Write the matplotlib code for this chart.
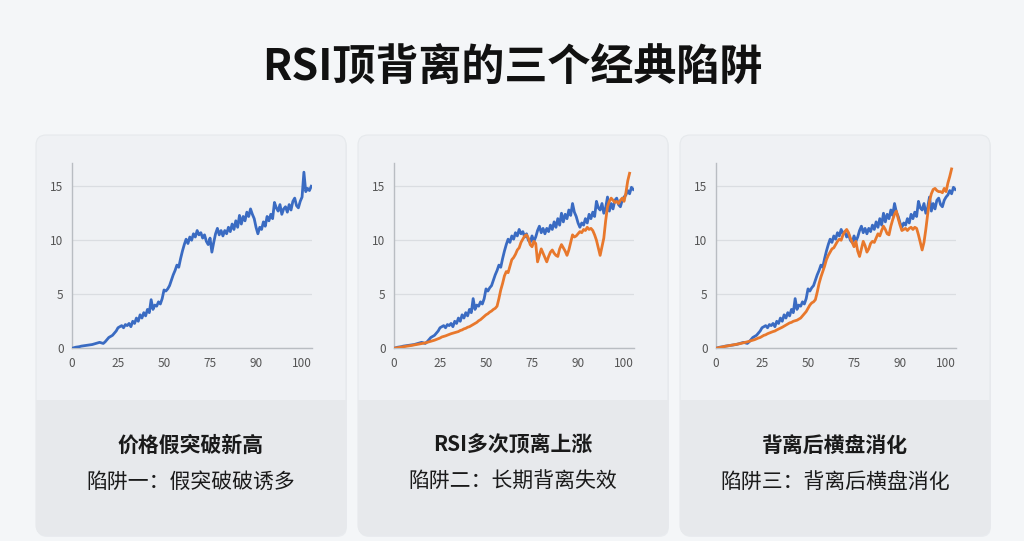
import matplotlib.pyplot as plt
from matplotlib.patches import FancyBboxPatch
import numpy as np

plt.rcParams['font.family'] = ['Noto Sans CJK SC', 'DejaVu Sans']

# price line (blue) in panel 1
price_1 = [0.0, 0.05, 0.1, 0.12, 0.15, 0.2, 0.22, 0.25, 0.28, 0.3, 0.32, 0.35, 0.4, 0.45, 0.5, 0.55,
           0.5, 0.45, 0.6,
           0.8, 1.0, 1.1, 1.2, 1.4, 1.6, 1.9,
           2.0, 2.1, 1.9, 2.2, 2.1, 2.3, 2.0, 2.5, 2.3, 2.8,
           2.5, 3.1, 2.8, 3.3, 3.0, 3.6, 3.3, 4.5, 3.6, 4.0,
           3.9, 4.3, 4.1, 4.6, 5.4, 5.3, 5.5,
           5.8, 6.3, 6.8, 7.2, 7.7, 7.5, 8.3, 9.0, 9.6, 10.1,
           9.7, 10.3, 10.0, 10.6, 10.3, 10.9, 10.5, 10.7, 10.2, 10.5,
           9.9, 9.6, 10.2, 8.9, 9.8, 10.6, 11.1, 10.5, 10.9, 10.4,
           10.9, 10.6, 11.2, 10.8, 11.5, 11.0, 11.8, 11.2, 12.3, 11.5,
           12.2, 11.8, 12.6, 12.2, 12.9, 12.4, 12.0, 11.2, 10.6, 11.2,
           11.0, 11.7, 11.3, 12.2, 11.8, 12.4, 12.0, 13.5, 13.0, 12.7,
           13.3, 12.4, 12.9, 13.1, 12.6, 13.3, 12.8, 13.6, 13.9, 13.2,
           13.0, 13.6, 14.0, 16.3, 14.5, 14.8, 14.6, 15.0]

# price line (blue) in panels 2 and 3
price_23 = [0.0, 0.05, 0.1, 0.12, 0.15, 0.2, 0.22, 0.25, 0.28, 0.3, 0.32, 0.35, 0.4, 0.45, 0.5, 0.55,
            0.5, 0.45, 0.6,
            0.8, 1.0, 1.1, 1.2, 1.4, 1.6, 1.9,
            2.0, 2.1, 1.9, 2.2, 2.1, 2.3, 2.0, 2.5, 2.3, 2.8,
            2.5, 3.1, 2.8, 3.3, 3.0, 3.6, 3.3, 4.6, 3.6, 4.0,
            3.9, 4.3, 4.1, 4.6, 5.5, 5.3, 5.6,
            5.8, 6.3, 6.8, 7.2, 7.7, 7.5, 8.3, 9.0, 9.6, 10.1,
            9.8, 10.4, 10.1, 10.7, 10.4, 11.0, 10.6, 10.8, 10.3, 10.6,
            10.0, 9.8, 10.4, 9.9, 10.3, 10.9, 11.3, 10.7, 11.1, 10.6,
            11.1, 10.8, 11.4, 11.0, 11.7, 11.2, 12.0, 11.4, 12.5, 11.7,
            12.4, 12.0, 12.8, 12.3, 13.4, 12.6, 12.2, 11.6, 11.2, 11.6,
            11.4, 12.0, 11.6, 12.4, 12.0, 12.6, 12.2, 13.6, 13.0, 12.8,
            13.4, 12.5, 13.0, 14.0, 12.7, 13.4, 12.9, 13.7, 13.9, 13.3,
            13.1, 13.7, 14.0, 14.2, 14.6, 14.3, 14.9, 14.7]

# indicator line (orange) in panel 2
rsi_2 = [0.0, 0.03, 0.06, 0.1, 0.12, 0.15, 0.18, 0.2, 0.22, 0.25, 0.28,
         0.3, 0.33, 0.36, 0.4, 0.43, 0.47, 0.5, 0.55, 0.6, 0.65,
         0.7, 0.75, 0.82, 0.9, 0.95, 1.05, 1.1, 1.15, 1.22, 1.3,
         1.35, 1.4, 1.45, 1.5, 1.55, 1.65, 1.7, 1.8, 1.85, 1.95,
         2.0, 2.1, 2.2, 2.3, 2.4, 2.55, 2.65, 2.8, 2.95, 3.1,
         3.2, 3.35, 3.45, 3.6, 3.7, 3.9, 4.6, 5.4, 6.0, 6.7,
         7.1, 7.0, 7.6, 8.2, 8.4, 8.7, 9.1, 9.3, 9.8, 10.1,
         10.4, 10.5, 10.2, 9.6, 9.4, 9.9, 9.7, 8.0, 8.6, 9.2,
         8.8, 8.4, 8.0, 8.5, 8.9, 9.1, 8.8, 8.6, 8.5, 9.2,
         9.6, 9.3, 9.0, 8.6, 9.1, 9.8, 10.5, 10.3, 10.4, 10.6,
         10.8, 10.7, 11.0, 10.9, 11.2, 11.0, 11.1, 10.9, 10.5, 10.0,
         9.3, 8.6, 9.4, 10.2, 11.8, 13.1, 13.6, 13.9, 13.7, 13.5,
         13.6, 13.4, 13.7, 13.9, 13.6, 14.4, 15.5, 16.2]

# indicator line (orange) in panel 3
rsi_3 = [0.0, 0.04, 0.08, 0.12, 0.15, 0.18, 0.22, 0.25, 0.28, 0.3, 0.33,
         0.36, 0.4, 0.43, 0.47, 0.5, 0.55, 0.6, 0.65, 0.7, 0.75,
         0.8, 0.88, 0.95, 1.0, 1.1, 1.2, 1.25, 1.35, 1.42, 1.5,
         1.55, 1.6, 1.7, 1.78, 1.85, 1.95, 2.05, 2.15, 2.25, 2.35,
         2.4, 2.5, 2.55, 2.6, 2.7, 2.8, 3.0, 3.2, 3.4, 3.7,
         4.0, 4.2, 4.3, 4.5, 5.2, 6.0, 6.6, 7.1, 7.6, 8.2,
         8.6, 8.9, 9.2, 9.3, 9.6, 9.9, 10.1, 10.0, 10.5, 10.8,
         11.0, 10.7, 10.2, 9.8, 9.4, 9.9, 9.0, 8.5, 9.2, 9.9,
         9.5, 8.9, 9.2, 9.7, 9.9, 9.8, 10.2, 10.6, 10.4, 10.9,
         11.3, 11.0, 10.6, 10.5, 11.3, 11.9, 12.4, 12.7, 12.0, 11.4,
         10.9, 11.0, 11.1, 10.9, 11.1, 11.2, 11.0, 11.2, 11.1, 10.5,
         9.8, 9.1, 9.8, 11.0, 12.4, 13.6, 14.3, 14.7, 14.8, 14.6,
         14.5, 14.5, 14.4, 14.8, 14.5, 15.3, 15.9, 16.6]

tick_pos = [0, 25, 50, 75, 100, 125]
tick_labels = ['0', '25', '50', '75', '90', '100']
y_ticks = [0, 5, 10, 15]

panel_titles = ['价格假突破新高', 'RSI多次顶离上涨', '背离后横盘消化']
panel_texts = ['陷阱一：假突破破诱多', '陷阱二：长期背离失效', '陷阱三：背离后横盘消化']
panel_lines = [[price_1], [price_23, rsi_2], [price_23, rsi_3]]

BLUE = '#3a6bc2'
ORANGE = '#e8782c'

W, H = 1024, 541
fig = plt.figure(figsize=(W / 100, H / 100), dpi=100, facecolor='#f4f6f8')

# background layer in pixel units
bg = fig.add_axes([0, 0, 1, 1], zorder=0)
bg.set_xlim(0, W)
bg.set_ylim(H, 0)
bg.axis('off')

fig.text(0.5, 1 - 68 / H, 'RSI顶背离的三个经典陷阱', ha='center', va='center',
         fontsize=31, fontweight='bold', color='#111111')

for i in range(3):
    x0 = 36 + i * 322
    # shadow + card
    bg.add_patch(FancyBboxPatch((x0 + 1, 137), 310, 400, boxstyle='round,pad=0,rounding_size=10',
                                fc='#e2e5e9', ec='none', alpha=0.6))
    bg.add_patch(FancyBboxPatch((x0, 135), 310, 400, boxstyle='round,pad=0,rounding_size=10',
                                fc='#eff1f4', ec='#e6e9ec', lw=0.8))
    bg.add_patch(FancyBboxPatch((x0, 400), 310, 135, boxstyle='round,pad=0,rounding_size=10',
                                fc='#e7e9ec', ec='none'))
    bg.add_patch(plt.Rectangle((x0, 400), 310, 20, fc='#e7e9ec', ec='none'))

    cx = (x0 + 155) / W
    fig.text(cx, 1 - 445 / H, panel_titles[i], ha='center', va='center',
             fontsize=15, fontweight='bold', color='#1a1a1a')
    fig.text(cx, 1 - 482 / H, panel_texts[i], ha='center', va='center',
             fontsize=15, color='#1a1a1a')

    ax = fig.add_axes([(72 + i * 322) / W, 1 - 348.3 / H, 240 / W, (348.3 - 163) / H], zorder=2)
    ax.patch.set_alpha(0)
    for k, series in enumerate(panel_lines[i]):
        ax.plot(np.arange(len(series)), series, color=[BLUE, ORANGE][k], lw=2.0,
                solid_joinstyle='round', zorder=3 + k)
    ax.set_xlim(0, 130.4)
    ax.set_ylim(0, 17.15)
    ax.set_xticks(tick_pos)
    ax.set_xticklabels(tick_labels)
    ax.set_yticks(y_ticks)
    ax.tick_params(length=0, labelsize=8.5, labelcolor='#555555', pad=6)
    ax.grid(axis='y', color='#dadde1', lw=0.9)
    ax.set_axisbelow(True)
    for s in ['top', 'right']:
        ax.spines[s].set_visible(False)
    for s in ['left', 'bottom']:
        ax.spines[s].set_color('#b9bdc2')
        ax.spines[s].set_linewidth(1.0)

fig.savefig('out.png', dpi=100, facecolor=fig.get_facecolor())
